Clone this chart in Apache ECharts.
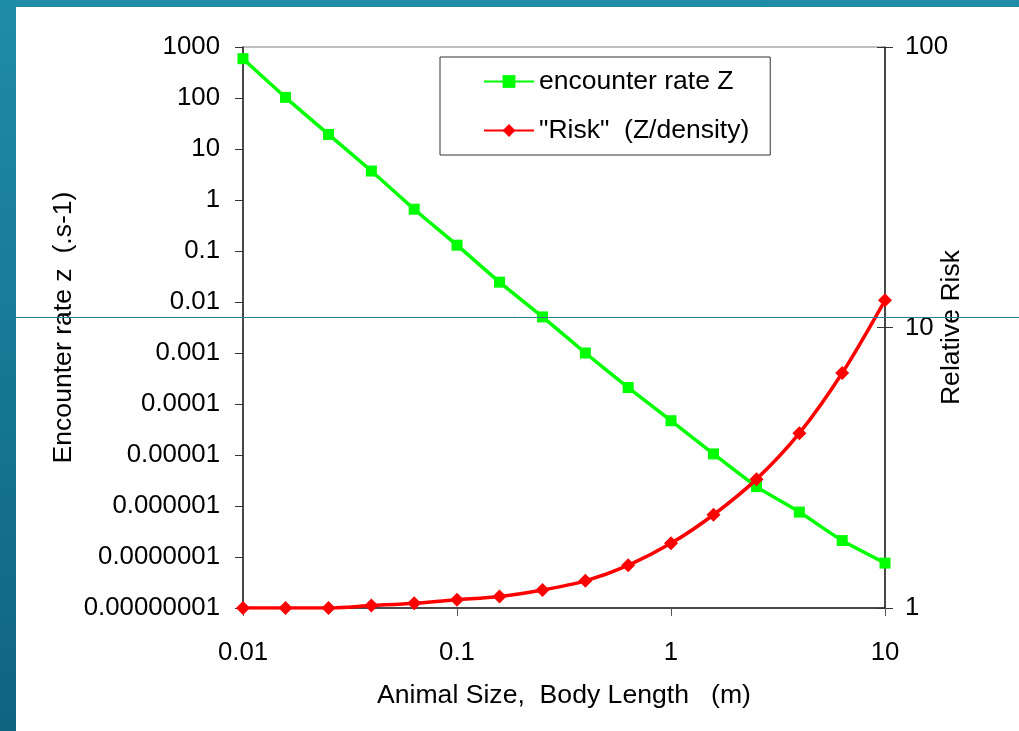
<!DOCTYPE html>
<html>
<head>
<meta charset="utf-8">
<script src="https://cdn.jsdelivr.net/npm/echarts@6/dist/echarts.min.js"></script>
<style>
  html, body { margin:0; padding:0; width:1019px; height:731px; overflow:hidden;
    background: linear-gradient(to bottom, #1f8ca8, #0f6480); }
  #paper { position:absolute; left:16px; top:7px; right:0; bottom:0; background:#fff; }
  #chart { position:absolute; left:0; top:0; width:1019px; height:731px; }
</style>
</head>
<body>
<div id="paper"></div>
<div id="chart"></div>
<script>
// Body length (m)
const sizes = [0.01, 0.0158, 0.0251, 0.0398, 0.0631, 0.1, 0.158, 0.251, 0.398, 0.631, 1, 1.58, 2.51, 3.98, 6.31, 10];
// Encounter rate Z (s-1), left axis
const encounterRate = [590, 103, 19.3, 3.7, 0.66, 0.13, 0.0245, 0.0051, 0.001, 0.00021, 0.000047, 0.0000105, 0.0000024, 0.00000076, 0.00000021, 0.000000076];
// Relative risk (Z/density), right axis
const relativeRisk = [1.0, 1.0, 1.0, 1.02, 1.04, 1.07, 1.10, 1.16, 1.25, 1.42, 1.70, 2.15, 2.88, 4.2, 6.88, 12.5];

const xTickLabels = ['0.01', '0.1', '1', '10'];
const leftTickLabels = ['0.00000001', '0.0000001', '0.000001', '0.00001', '0.0001', '0.001', '0.01', '0.1', '1', '10', '100', '1000'];
const rightTickLabels = ['1', '10', '100'];

const seriesNames = ['encounter rate Z', '"Risk"  (Z/density)'];

const FONT = 'Liberation Sans, Arial, sans-serif';
const chart = echarts.init(document.getElementById('chart'), null, { renderer: 'canvas' });

const lg = v => Math.round(Math.log10(v));

chart.setOption({
  animation: false,
  backgroundColor: 'transparent',
  textStyle: { fontFamily: FONT },
  grid: { left: 243, right: 134, top: 47, bottom: 123, show: true, borderColor: '#808080', borderWidth: 1, backgroundColor: 'transparent' },
  legend: {
    left: 440, top: 57, orient: 'vertical',
    padding: [11, 21, 11, 43],
    itemWidth: 50, itemHeight: 16, itemGap: 22,
    borderColor: '#333', borderWidth: 1, backgroundColor: '#fff',
    textStyle: { fontSize: 26.5, color: '#000', fontFamily: FONT },
    data: seriesNames
  },
  xAxis: {
    type: 'log', logBase: 10, min: 0.01, max: 10, interval: 1,
    axisLine: { lineStyle: { color: '#222', width: 1.5 } },
    axisTick: { length: 8, lineStyle: { color: '#555' } },
    splitLine: { show: false },
    minorTick: { show: false },
    axisLabel: { fontSize: 25.8, color: '#000', margin: 32, fontFamily: FONT,
      formatter: v => xTickLabels[lg(v) + 2] },
    name: 'Animal Size,  Body Length   (m)',
    nameLocation: 'middle', nameGap: 74, nameMoveOverlap: false,
    nameTextStyle: { fontSize: 26.6, color: '#000', fontFamily: FONT }
  },
  yAxis: [
    {
      type: 'log', logBase: 10, min: 1e-8, max: 1000, interval: 1, position: 'left',
      axisLine: { show: true, lineStyle: { color: '#222', width: 1.5 } },
      axisTick: { show: true, length: 8, lineStyle: { color: '#333' } },
      splitLine: { show: false },
      axisLabel: { fontSize: 25.8, color: '#000', margin: 23, fontFamily: FONT,
        formatter: v => leftTickLabels[lg(v) + 8] },
      name: 'Encounter rate z  (.s-1)',
      nameLocation: 'middle', nameRotate: 90, nameGap: 166, nameMoveOverlap: false,
      nameTextStyle: { fontSize: 26.6, color: '#000', fontFamily: FONT }
    },
    {
      type: 'log', logBase: 10, min: 1, max: 100, interval: 1, position: 'right',
      axisLine: { show: true, lineStyle: { color: '#222', width: 1.5 } },
      axisTick: { show: true, length: 8, lineStyle: { color: '#333' } },
      splitLine: { show: false },
      axisLabel: { fontSize: 25.8, color: '#000', margin: 20, fontFamily: FONT,
        formatter: v => rightTickLabels[lg(v)] },
      name: 'Relative Risk',
      nameLocation: 'middle', nameRotate: 90, nameGap: 53, nameMoveOverlap: false,
      nameTextStyle: { fontSize: 26.6, color: '#000', fontFamily: FONT }
    },
    {
      type: 'log', logBase: 10, min: 1, max: 100, interval: 1, position: 'right',
      axisLine: { show: false },
      axisTick: { show: true, inside: true, length: 8, lineStyle: { color: '#333' } },
      splitLine: { show: false },
      axisLabel: { show: false }
    }
  ],
  series: [
    {
      name: seriesNames[0], type: 'line', yAxisIndex: 0,
      data: sizes.map((x, i) => [x, encounterRate[i]]),
      smooth: 0.2,
      symbol: 'rect', symbolSize: 11,
      lineStyle: { color: '#00ff00', width: 3.5 },
      itemStyle: { color: '#00ff00' },
      z: 3
    },
    {
      name: seriesNames[1], type: 'line', yAxisIndex: 1,
      data: sizes.map((x, i) => [x, relativeRisk[i]]),
      smooth: 0.3,
      symbol: 'diamond', symbolSize: 14,
      lineStyle: { color: '#ff0000', width: 3.5 },
      itemStyle: { color: '#ff0000' },
      z: 4
    }
  ],
  graphic: [
    { type: 'line', z: 100, silent: true,
      shape: { x1: 16, y1: 317.5, x2: 1019, y2: 317.5 },
      style: { stroke: '#2a7f95', lineWidth: 1 } }
  ]
});
</script>
</body>
</html>
